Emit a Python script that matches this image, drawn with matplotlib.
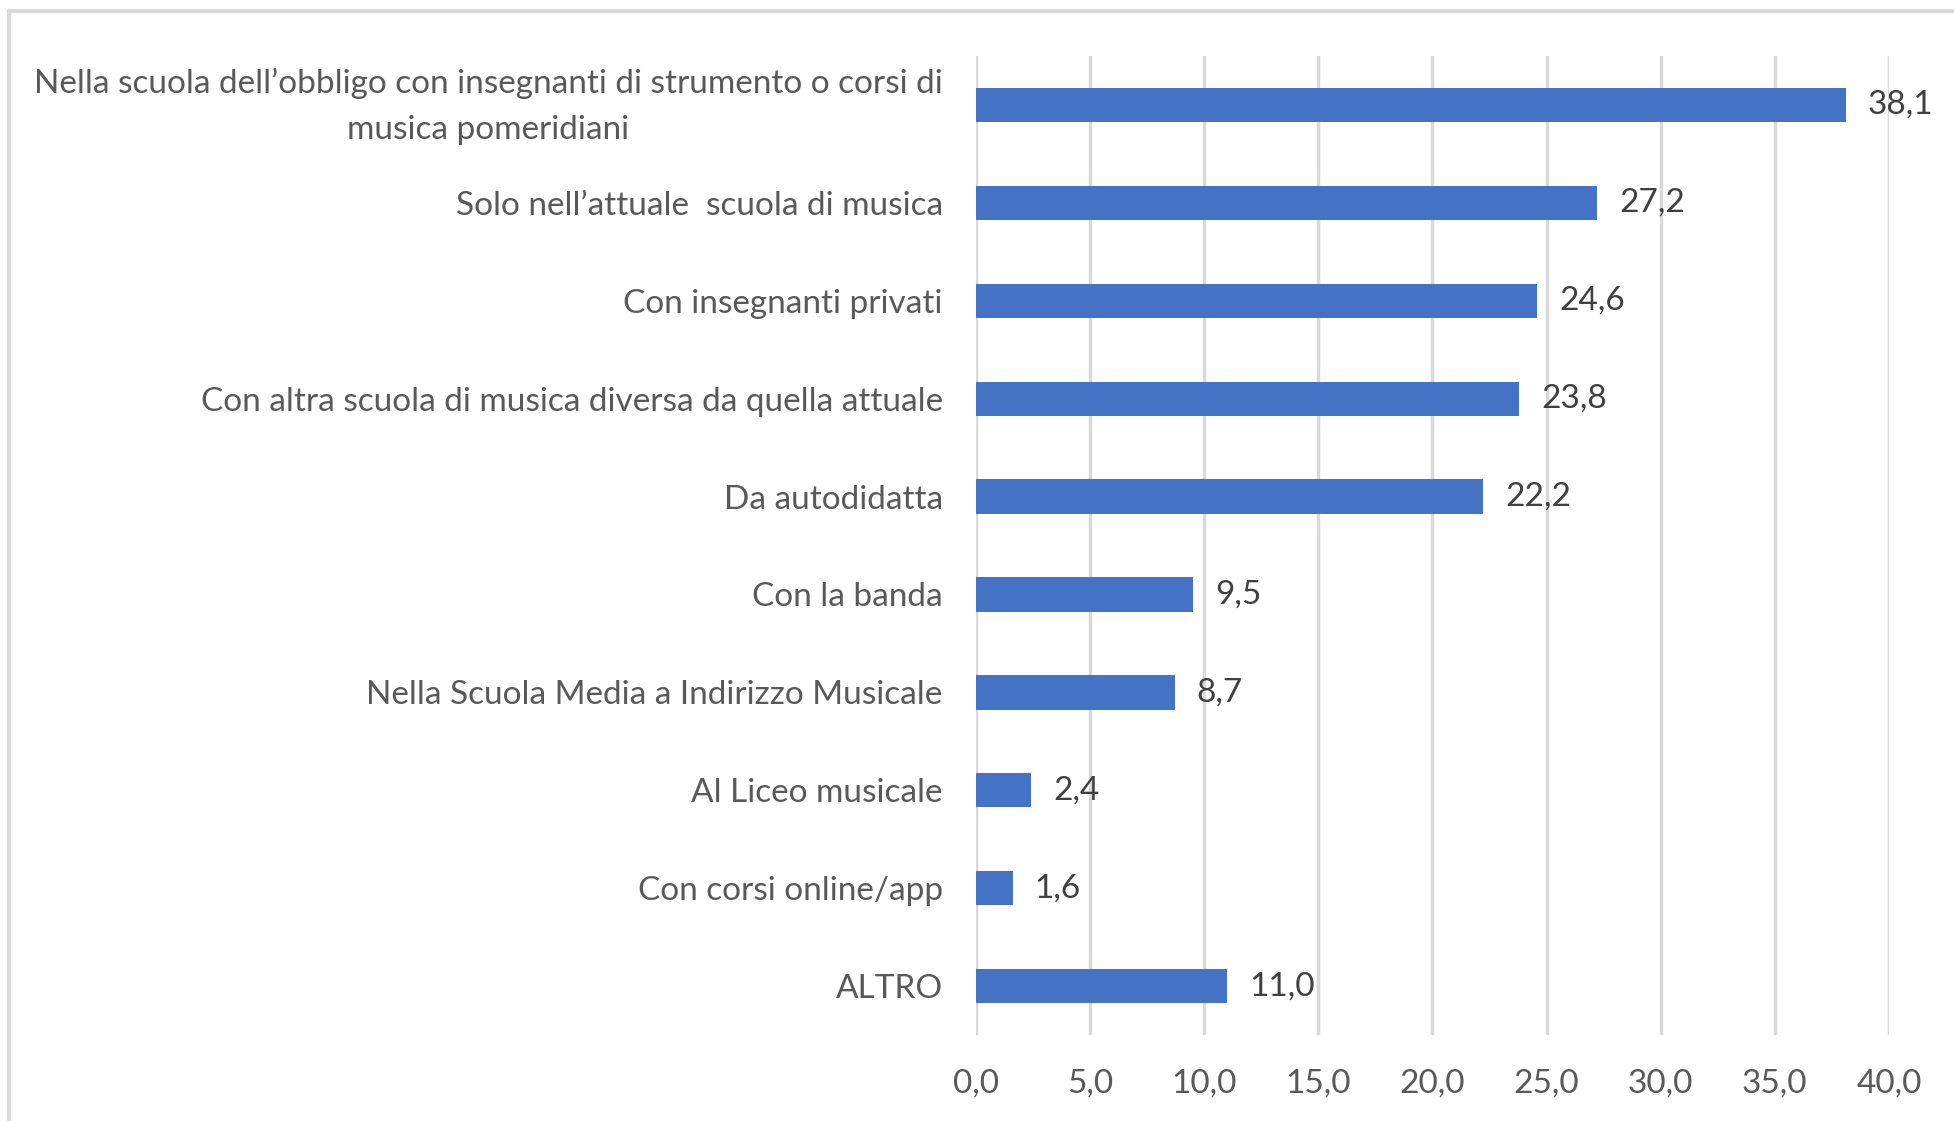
import matplotlib.pyplot as plt
from matplotlib.lines import Line2D
from matplotlib.transforms import ScaledTranslation

# Data
categories = [
    "Nella scuola dell\u2019obbligo con insegnanti di strumento o corsi di\nmusica pomeridiani",
    "Solo nell\u2019attuale  scuola di musica",
    "Con insegnanti privati",
    "Con altra scuola di musica diversa da quella attuale",
    "Da autodidatta",
    "Con la banda",
    "Nella Scuola Media a Indirizzo Musicale",
    "Al Liceo musicale",
    "Con corsi online/app",
    "ALTRO",
]
values = [38.1, 27.2, 24.6, 23.8, 22.2, 9.5, 8.7, 2.4, 1.6, 11.0]
xticks = [0, 5, 10, 15, 20, 25, 30, 35, 40]

plt.rcParams["font.family"] = ["Lato", "DejaVu Sans"]

fig = plt.figure(figsize=(19.54, 11.21), dpi=100)
ax = fig.add_axes([0.4995, 0.0767, 0.9667 - 0.4995, 0.95 - 0.0767])

pos = list(range(len(categories)))
ax.barh(pos, values, height=0.35, color="#4472C4", zorder=3)
ax.set_ylim(len(categories) - 0.5, -0.5)
ax.set_xlim(0, 40)

# value labels
for p, v in zip(pos, values):
    ax.annotate(f"{v:.1f}".replace(".", ","), (v, p), xytext=(16, 0),
                textcoords="offset points", va="center", ha="left",
                fontsize=24, color="#404040")

ax.set_yticks(pos)
ax.set_yticklabels(categories, fontsize=24, color="#595959",
                   multialignment="center", linespacing=1.65)
ax.set_xticks(xticks)
ax.set_xticklabels([f"{t:.1f}".replace(".", ",") for t in xticks], fontsize=24, color="#595959")
ax.tick_params(axis="y", length=0, pad=24)
ax.tick_params(axis="x", length=0, pad=24)

# nudge the two-line label up a little so it sits centred on its bar
first = ax.get_yticklabels()[0]
first.set_transform(first.get_transform() + ScaledTranslation(0, 7 / 72, fig.dpi_scale_trans))

ax.grid(axis="x", color="#D9D9D9", linewidth=2.5, zorder=0)
for s in ax.spines.values():
    s.set_visible(False)

# outer frame (top and left edges visible)
fig.add_artist(Line2D([9 / 1954, 1], [1 - 11 / 1121] * 2, color="#D9D9D9", linewidth=3))
fig.add_artist(Line2D([9 / 1954] * 2, [0, 1 - 11 / 1121], color="#D9D9D9", linewidth=3))

plt.savefig("out.png", dpi=100)
